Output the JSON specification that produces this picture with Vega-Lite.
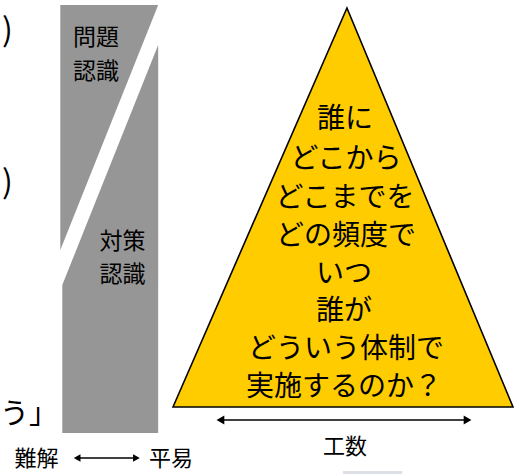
{
  "$schema": "https://vega.github.io/schema/vega-lite/v6.json",
  "width": 517,
  "height": 474,
  "padding": 0,
  "autosize": {"type": "fit", "contains": "padding"},
  "background": "white",
  "config": {"view": {"stroke": null}, "font": "Noto Sans CJK JP"},
  "datasets": {
    "bar": [
      {"part": "upper", "x": 59, "y": 5, "y2": 250},
      {"part": "upper", "x": 158, "y": 5, "y2": 5},
      {"part": "lower", "x": 61, "y": 285, "y2": 433},
      {"part": "lower", "x": 158, "y": 45, "y2": 433}
    ],
    "triangle": [
      {"x": 173, "y": 407, "y2": 407},
      {"x": 349, "y": 8, "y2": 407},
      {"x": 517, "y": 407, "y2": 407}
    ],
    "arrows": [
      {"name": "工数", "x": 220, "x2": 472, "y": 420},
      {"name": "難易", "x": 75, "x2": 137, "y": 458}
    ],
    "heads": [
      {"arrow": "工数", "dir": "left", "x": 221, "y": 420, "s": "big"},
      {"arrow": "工数", "dir": "right", "x": 471, "y": 420, "s": "big"},
      {"arrow": "難易", "dir": "left", "x": 76, "y": 458, "s": "small"},
      {"arrow": "難易", "dir": "right", "x": 136, "y": 458, "s": "small"}
    ],
    "tri_text": [
      {"t": "誰に", "x": 347, "y": 120},
      {"t": "どこから", "x": 348, "y": 160},
      {"t": "どこまでを", "x": 347, "y": 199},
      {"t": "どの頻度で", "x": 348, "y": 237},
      {"t": "いつ", "x": 346, "y": 275},
      {"t": "誰が", "x": 346, "y": 312},
      {"t": "どういう体制で", "x": 348, "y": 350},
      {"t": "実施するのか？", "x": 346, "y": 388}
    ],
    "bar_text": [
      {"t": "問題", "x": 95, "y": 38},
      {"t": "認識", "x": 95, "y": 72},
      {"t": "対策", "x": 122, "y": 242},
      {"t": "認識", "x": 122, "y": 275}
    ],
    "bottom_text": [
      {"t": "難解", "x": 35, "y": 459},
      {"t": "平易", "x": 171, "y": 459},
      {"t": "工数", "x": 347, "y": 447}
    ],
    "clip_right": [
      {"t": ")", "x": 11, "y": 31},
      {"t": ")", "x": 11, "y": 183}
    ],
    "clip_left": [
      {"t": "う」", "x": -2, "y": 415}
    ],
    "sliver": [
      {"x": 345, "x2": 405, "y": 471, "y2": 474}
    ]
  },
  "encoding": {
    "x": {"field": "x", "type": "quantitative", "scale": {"domain": [0, 517], "nice": false, "zero": false}, "axis": null},
    "y": {"field": "y", "type": "quantitative", "scale": {"domain": [0, 474], "nice": false, "zero": false, "reverse": true}, "axis": null}
  },
  "layer": [
    {
      "data": {"name": "bar"},
      "mark": {"type": "area", "color": "#969696", "orient": "vertical"},
      "encoding": {"y2": {"field": "y2"}, "detail": {"field": "part"}}
    },
    {
      "data": {"name": "triangle"},
      "mark": {"type": "area", "fill": "#FFCC00", "stroke": "#000000", "strokeWidth": 1.6, "fillOpacity": 1, "orient": "vertical"},
      "encoding": {"y2": {"field": "y2"}}
    },
    {
      "data": {"name": "arrows"},
      "mark": {"type": "rule", "color": "#000000", "strokeWidth": 1.5},
      "encoding": {"x2": {"field": "x2"}}
    },
    {
      "data": {"name": "heads"},
      "mark": {"type": "point", "filled": true, "color": "#000000", "opacity": 1},
      "encoding": {
        "shape": {"field": "dir", "type": "nominal", "scale": {"domain": ["left", "right"], "range": ["triangle-left", "triangle-right"]}, "legend": null},
        "size": {"field": "s", "type": "nominal", "scale": {"domain": ["big", "small"], "range": [80, 60]}, "legend": null}
      }
    },
    {
      "data": {"name": "tri_text"},
      "mark": {"type": "text", "fontSize": 28, "color": "#000000", "align": "center", "baseline": "middle"},
      "encoding": {"text": {"field": "t"}}
    },
    {
      "data": {"name": "bar_text"},
      "mark": {"type": "text", "fontSize": 23, "color": "#000000", "align": "center", "baseline": "middle"},
      "encoding": {"text": {"field": "t"}}
    },
    {
      "data": {"name": "bottom_text"},
      "mark": {"type": "text", "fontSize": 22, "color": "#000000", "align": "center", "baseline": "middle"},
      "encoding": {"text": {"field": "t"}}
    },
    {
      "data": {"name": "clip_right"},
      "mark": {"type": "text", "fontSize": 32, "color": "#000000", "align": "right", "baseline": "middle"},
      "encoding": {"text": {"field": "t"}}
    },
    {
      "data": {"name": "clip_left"},
      "mark": {"type": "text", "fontSize": 29, "color": "#000000", "align": "left", "baseline": "middle"},
      "encoding": {"text": {"field": "t"}}
    },
    {
      "data": {"name": "sliver"},
      "mark": {"type": "rect", "color": "#dde1e6"},
      "encoding": {"x2": {"field": "x2"}, "y2": {"field": "y2"}}
    }
  ]
}
